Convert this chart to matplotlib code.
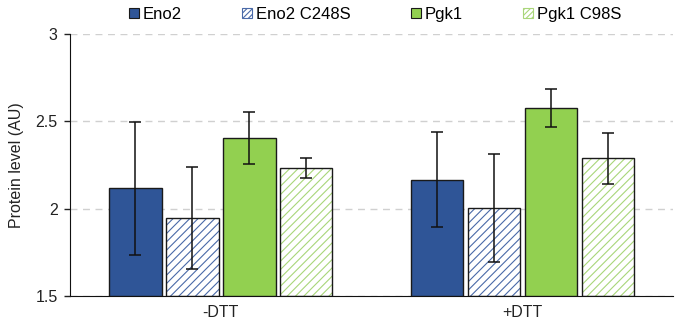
import matplotlib
matplotlib.use("Agg")
import matplotlib.pyplot as plt
from matplotlib.patches import Patch
import numpy as np

plt.rcParams['font.family'] = ['Liberation Sans', 'DejaVu Sans']
plt.rcParams['hatch.linewidth'] = 0.8

conditions = ["-DTT", "+DTT"]
series = ["Eno2", "Eno2 C248S", "Pgk1", "Pgk1 C98S"]
eno2 = [2.118, 2.167]
eno2_c248s = [1.948, 2.004]
pgk1 = [2.406, 2.576]
pgk1_c98s = [2.233, 2.290]
eno2_err = [0.38, 0.27]
eno2_c248s_err = [0.292, 0.31]
pgk1_err = [0.148, 0.11]
pgk1_c98s_err = [0.057, 0.145]

values = [eno2, eno2_c248s, pgk1, pgk1_c98s]
errors = [eno2_err, eno2_c248s_err, pgk1_err, pgk1_c98s_err]

blue = "#2F5597"
green = "#92D050"
styles = [
    dict(face=blue, hatch=None, hcolor=None),
    dict(face="white", hatch="////", hcolor="#4a6aa8"),
    dict(face=green, hatch=None, hcolor=None),
    dict(face="white", hatch="////", hcolor="#a9d67a"),
]
edge = "#1a1a1a"

fig = plt.figure(figsize=(6.76, 3.23), dpi=100)
ax = fig.add_axes([0.1036, 0.0827, 0.892, 0.812])

x = np.arange(len(conditions))
slot = 0.189
width = 0.174
offsets = (np.arange(len(series)) - 1.5) * slot

for i, (vals, errs, st) in enumerate(zip(values, errors, styles)):
    pos = x + offsets[i]
    if st["hatch"]:
        ax.bar(pos, np.array(vals) - 1.5, width, bottom=1.5, color="white",
               edgecolor=st["hcolor"], hatch=st["hatch"], linewidth=0, zorder=2)
        ax.bar(pos, np.array(vals) - 1.5, width, bottom=1.5, fill=False,
               edgecolor=edge, linewidth=1.0, zorder=3)
    else:
        ax.bar(pos, np.array(vals) - 1.5, width, bottom=1.5, color=st["face"],
               edgecolor=edge, linewidth=1.0, zorder=3)
    ax.errorbar(pos, vals, yerr=errs, fmt="none", ecolor="#111111",
                elinewidth=1.1, capsize=4, capthick=1.1, zorder=4)

ax.set_xlim(-0.5, 1.5)
ax.set_ylim(1.5, 3.0)
ax.set_yticks([1.5, 2, 2.5, 3])
ax.set_yticklabels(["1.5", "2", "2.5", "3"])
ax.set_xticks(x)
ax.set_xticklabels(conditions)
ax.tick_params(axis="x", length=0, labelsize=11.5, pad=6, colors="#222222")
ax.tick_params(axis="y", length=4, labelsize=11.5, colors="#222222", width=1, pad=5)
ax.yaxis.grid(True, linestyle=(0, (5, 4)), color="#d0d0d0", linewidth=1, zorder=0)
ax.set_axisbelow(True)
for s in ["top", "right"]:
    ax.spines[s].set_visible(False)
ax.spines["left"].set_color("#111111")
ax.spines["bottom"].set_color("#111111")
ax.set_ylabel("Protein level (AU)", fontsize=11.5, color="#222222", labelpad=8)

handles = []
for name, st in zip(series, styles):
    if st["hatch"]:
        handles.append(Patch(facecolor="white", edgecolor=st["hcolor"], hatch="//////",
                             linewidth=0.8, label=name))
    else:
        handles.append(Patch(facecolor=st["face"], edgecolor=edge, linewidth=0.8, label=name))
leg = fig.legend(handles=handles, loc="upper center", ncol=4, frameon=False,
                 bbox_to_anchor=(0.555, 1.025), fontsize=12, handlelength=0.6,
                 handleheight=0.6, handletextpad=0.25, columnspacing=3.6)

fig.savefig("out.png", dpi=100)
